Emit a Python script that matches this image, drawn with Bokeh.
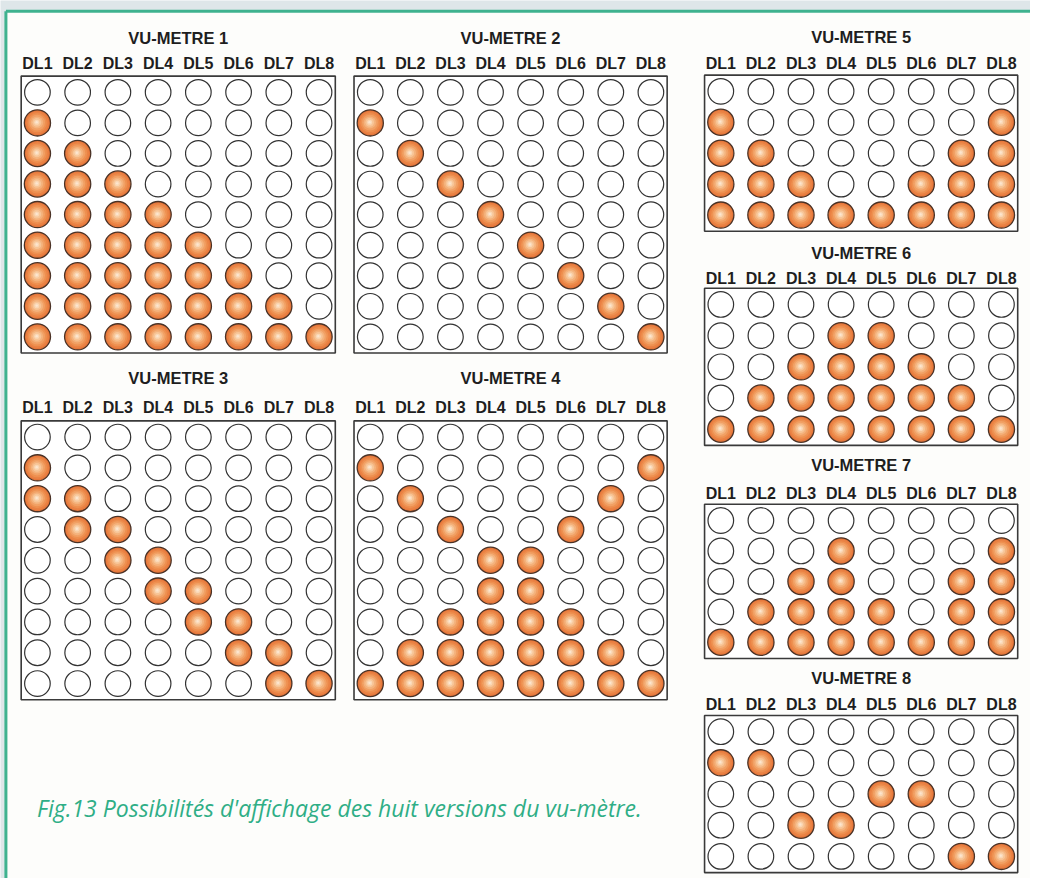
from bokeh.plotting import figure
from bokeh.models import Range1d, ColumnDataSource
from bokeh.core.properties import value
from bokeh.embed import file_html
from bokeh.resources import INLINE

# ---------------- data ----------------
DL = ["DL1", "DL2", "DL3", "DL4", "DL5", "DL6", "DL7", "DL8"]
TITLES = ["VU-METRE 1", "VU-METRE 2", "VU-METRE 3", "VU-METRE 4",
          "VU-METRE 5", "VU-METRE 6", "VU-METRE 7", "VU-METRE 8"]
CAPTION = "Fig.13 Possibilités d'affichage des huit versions du vu-mètre."

VU1 = [[0, 0, 0, 0, 0, 0, 0, 0],
       [1, 0, 0, 0, 0, 0, 0, 0],
       [1, 1, 0, 0, 0, 0, 0, 0],
       [1, 1, 1, 0, 0, 0, 0, 0],
       [1, 1, 1, 1, 0, 0, 0, 0],
       [1, 1, 1, 1, 1, 0, 0, 0],
       [1, 1, 1, 1, 1, 1, 0, 0],
       [1, 1, 1, 1, 1, 1, 1, 0],
       [1, 1, 1, 1, 1, 1, 1, 1]]
VU2 = [[0, 0, 0, 0, 0, 0, 0, 0],
       [1, 0, 0, 0, 0, 0, 0, 0],
       [0, 1, 0, 0, 0, 0, 0, 0],
       [0, 0, 1, 0, 0, 0, 0, 0],
       [0, 0, 0, 1, 0, 0, 0, 0],
       [0, 0, 0, 0, 1, 0, 0, 0],
       [0, 0, 0, 0, 0, 1, 0, 0],
       [0, 0, 0, 0, 0, 0, 1, 0],
       [0, 0, 0, 0, 0, 0, 0, 1]]
VU3 = [[0, 0, 0, 0, 0, 0, 0, 0],
       [1, 0, 0, 0, 0, 0, 0, 0],
       [1, 1, 0, 0, 0, 0, 0, 0],
       [0, 1, 1, 0, 0, 0, 0, 0],
       [0, 0, 1, 1, 0, 0, 0, 0],
       [0, 0, 0, 1, 1, 0, 0, 0],
       [0, 0, 0, 0, 1, 1, 0, 0],
       [0, 0, 0, 0, 0, 1, 1, 0],
       [0, 0, 0, 0, 0, 0, 1, 1]]
VU4 = [[0, 0, 0, 0, 0, 0, 0, 0],
       [1, 0, 0, 0, 0, 0, 0, 1],
       [0, 1, 0, 0, 0, 0, 1, 0],
       [0, 0, 1, 0, 0, 1, 0, 0],
       [0, 0, 0, 1, 1, 0, 0, 0],
       [0, 0, 0, 1, 1, 0, 0, 0],
       [0, 0, 1, 1, 1, 1, 0, 0],
       [0, 1, 1, 1, 1, 1, 1, 0],
       [1, 1, 1, 1, 1, 1, 1, 1]]
VU5 = [[0, 0, 0, 0, 0, 0, 0, 0],
       [1, 0, 0, 0, 0, 0, 0, 1],
       [1, 1, 0, 0, 0, 0, 1, 1],
       [1, 1, 1, 0, 0, 1, 1, 1],
       [1, 1, 1, 1, 1, 1, 1, 1]]
VU6 = [[0, 0, 0, 0, 0, 0, 0, 0],
       [0, 0, 0, 1, 1, 0, 0, 0],
       [0, 0, 1, 1, 1, 1, 0, 0],
       [0, 1, 1, 1, 1, 1, 1, 0],
       [1, 1, 1, 1, 1, 1, 1, 1]]
VU7 = [[0, 0, 0, 0, 0, 0, 0, 0],
       [0, 0, 0, 1, 0, 0, 0, 1],
       [0, 0, 1, 1, 0, 0, 1, 1],
       [0, 1, 1, 1, 1, 0, 1, 1],
       [1, 1, 1, 1, 1, 1, 1, 1]]
VU8 = [[0, 0, 0, 0, 0, 0, 0, 0],
       [1, 1, 0, 0, 0, 0, 0, 0],
       [0, 0, 0, 0, 1, 1, 0, 0],
       [0, 0, 1, 1, 0, 0, 0, 0],
       [0, 0, 0, 0, 0, 0, 1, 1]]

PATTERNS = [VU1, VU2, VU3, VU4, VU5, VU6, VU7, VU8]

# ---------------- layout (reference pixel coordinates) ----------------
# (left, top, right, bottom, title_y, label_y)
BOXES = [(21, 77, 340, 359, 38, 64.5),
         (359, 77, 677, 359, 38, 64.5),
         (21, 428, 340, 712, 384, 414),
         (359, 428, 677, 712, 384, 414),
         (715, 76, 1033, 235, 37.5, 64),
         (715, 293, 1033, 453, 257, 283),
         (715, 513, 1033, 670, 473, 502),
         (715, 728, 1033, 888, 690, 717)]
MARGIN = 16.5

W, H = 1030, 878
p = figure(width=W, height=H, output_backend="svg", toolbar_location=None,
           x_range=Range1d(0, 1046), y_range=Range1d(894, 0),
           min_border=0, x_axis_location=None, y_axis_location=None)
p.grid.visible = False
p.outline_line_color = None
p.background_fill_color = "#dee6e9"
p.border_fill_color = "#dee6e9"

TEAL = "#3fb28f"
# outer frame: white panel plus teal left and top edges
p.quad(left=[5.5], right=[1200], top=[11], bottom=[1000],
       fill_color="#fdfdfb", line_color=None)
p.segment(x0=[5.5, 5.5], y0=[11, 11], x1=[5.5, 1200], y1=[1000, 11],
          line_color=TEAL, line_width=3)

box_src = dict(left=[], right=[], top=[], bottom=[])
on = dict(x=[], y=[])
off = dict(x=[], y=[])
tx = dict(x=[], y=[], t=[])
lx = dict(x=[], y=[], t=[])

for pat, title, (l, t, r, b, ty, ly) in zip(PATTERNS, TITLES, BOXES):
    box_src["left"].append(l)
    box_src["right"].append(r)
    box_src["top"].append(t)
    box_src["bottom"].append(b)
    n = len(pat)
    dx = (r - l - 2 * MARGIN) / 7
    dy = (b - t - 2 * MARGIN) / (n - 1)
    cx = [l + MARGIN + i * dx for i in range(8)]
    for j, row in enumerate(pat):
        yy = t + MARGIN + j * dy
        for i, v in enumerate(row):
            d = on if v else off
            d["x"].append(cx[i])
            d["y"].append(yy)
    tx["x"].append((l + r) / 2)
    tx["y"].append(ty)
    tx["t"].append(title)
    for i, name in enumerate(DL):
        lx["x"].append(cx[i])
        lx["y"].append(ly)
        lx["t"].append(name)

p.quad(left="left", right="right", top="top", bottom="bottom",
       source=ColumnDataSource(box_src), fill_color="white",
       line_color="#3a3a3a", line_width=1.6)

p.circle(x="x", y="y", radius=13, source=ColumnDataSource(off),
         fill_color="white", line_color="#333333", line_width=1.2)

on_src = ColumnDataSource(on)
p.circle(x="x", y="y", radius=13.3, source=on_src,
         fill_color="#e5763a", line_color="#4a3226", line_width=1.3)
layers = [(11.5, "#ea8244"), (9.8, "#ee9050"), (8.0, "#f1a064"),
          (6.2, "#f4b27c"), (4.4, "#f7c597"), (2.6, "#fad8b6"), (1.2, "#fce6d0")]
for rad, col in layers:
    off_xy = -0.8 * (1 - rad / 13)
    src = ColumnDataSource(dict(x=[v + off_xy for v in on["x"]],
                                y=[v + off_xy for v in on["y"]]))
    p.circle(x="x", y="y", radius=rad, source=src, fill_color=col,
             line_color=None)

p.text(x="x", y="y", text="t", source=ColumnDataSource(tx),
       text_font=value("Liberation Sans"), text_font_style="bold",
       text_font_size="16.5px", text_align="center", text_baseline="middle",
       text_color="#1e1e1e")
p.text(x="x", y="y", text="t", source=ColumnDataSource(lx),
       text_font=value("Liberation Sans"), text_font_style="bold",
       text_font_size="16px", text_align="center", text_baseline="middle",
       text_color="#1e1e1e")

p.text(x=[37], y=[822], text=[CAPTION], text_font=value("Open Sans"),
       text_font_style="italic", text_font_size="23px", text_align="left",
       text_baseline="middle", text_color="#2fae86")

open("out.html", "w").write(file_html(p, INLINE))
